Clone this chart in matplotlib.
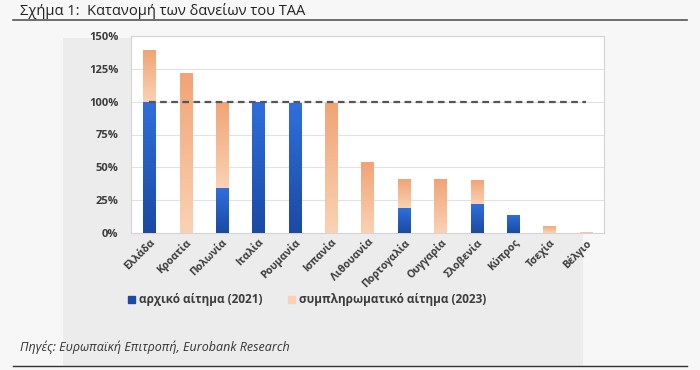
import matplotlib

matplotlib.use("Agg")
import matplotlib.pyplot as plt
import numpy as np
from matplotlib.patches import Rectangle
from matplotlib.lines import Line2D
from matplotlib.colors import LinearSegmentedColormap

plt.rcParams["font.family"] = ["Open Sans", "DejaVu Sans"]

countries = ["Ελλάδα", "Κροατία", "Πολωνία", "Ιταλία", "Ρουμανία", "Ισπανία", "Λιθουανία",
             "Πορτογαλία", "Ουγγαρία", "Σλοβενία", "Κύπρος", "Τσεχία", "Βέλγιο"]
initial_2021 = [100, 0, 34, 100, 99, 0, 0, 19, 0, 22, 14, 0, 0]
extra_2023 = [39, 122, 66, 0, 0, 99, 54, 22, 41, 18, 0, 5.5, 0.8]
yticks = [0, 25, 50, 75, 100, 125, 150]
ytick_labels = ["0%", "25%", "50%", "75%", "100%", "125%", "150%"]

BLUE_TOP, BLUE_BOTTOM = "#2f6fdc", "#1b4aa3"
ORANGE_TOP, ORANGE_BOTTOM = "#f1a476", "#fad2b3"
TEXT = "#3c3c3c"

fig = plt.figure(figsize=(7, 3.7), dpi=100)
fig.patch.set_facecolor("#f7f7f7")

# grey panel behind the chart
fig.patches.append(Rectangle((63 / 700, 1 - 366 / 370), 520 / 700, 328 / 370,
                             transform=fig.transFigure, facecolor="#ececec",
                             edgecolor="none", zorder=-5))
# rules under the title and above the source
fig.add_artist(Line2D([13 / 700, 687 / 700], [1 - 20 / 370] * 2, color="#555555", lw=1.2))
fig.add_artist(Line2D([13 / 700, 687 / 700], [1 - 366 / 370] * 2, color="#333333", lw=1.0))

ax = fig.add_axes([131 / 700, 1 - 233 / 370, 473 / 700, 197 / 370])
ax.set_facecolor("white")

x = np.arange(len(countries))
width = 0.33
bars_blue = ax.bar(x, initial_2021, width, color=BLUE_TOP, zorder=2,
                   label="αρχικό αίτημα (2021)")
bars_orange = ax.bar(x, extra_2023, width, bottom=initial_2021, color=ORANGE_TOP, zorder=2,
                     label="συμπληρωματικό αίτημα (2023)")


def gradient_fill(bars, top, bottom):
    cmap = LinearSegmentedColormap.from_list("g", [bottom, top])
    grad = np.linspace(0, 1, 64).reshape(-1, 1)
    for bar in bars:
        if bar.get_height() <= 0:
            continue
        x0, y0 = bar.get_x(), bar.get_y()
        im = ax.imshow(grad, cmap=cmap, aspect="auto", origin="lower",
                       extent=[x0, x0 + bar.get_width(), y0, y0 + bar.get_height()],
                       zorder=3)
        im.set_clip_path(bar)


gradient_fill(bars_blue, BLUE_TOP, BLUE_BOTTOM)
gradient_fill(bars_orange, ORANGE_TOP, ORANGE_BOTTOM)

ax.plot([x[0], x[-1]], [100, 100], color="#555555", lw=1.6, ls=(0, (3, 2)), zorder=4)

ax.set_xlim(-0.5, len(countries) - 0.5)
ax.set_ylim(0, 150)
ax.set_yticks(yticks)
ax.set_yticklabels(ytick_labels)
ax.yaxis.grid(True, color="#e2e2e2", lw=0.8, zorder=0)
ax.set_axisbelow(True)
ax.tick_params(axis="y", length=0, pad=9, labelsize=8, labelcolor=TEXT)
ax.tick_params(axis="x", length=0, pad=3, labelsize=7.5, labelcolor=TEXT)
for lab in ax.get_yticklabels():
    lab.set_fontweight("bold")
ax.set_xticks(x)
ax.set_xticklabels(countries, rotation=45, ha="right", rotation_mode="anchor",
                   fontweight="bold")
for side in ax.spines.values():
    side.set_color("#d4d4d4")
    side.set_linewidth(0.8)

handles = [Rectangle((0, 0), 1, 1, color=BLUE_BOTTOM), Rectangle((0, 0), 1, 1, color=ORANGE_BOTTOM)]
fig.legend(handles, ["αρχικό αίτημα (2021)", "συμπληρωματικό αίτημα (2023)"],
           loc="center", bbox_to_anchor=(307 / 700, 1 - 300 / 370), ncol=2, frameon=False,
           handlelength=0.6, handleheight=0.6, handletextpad=0.3, columnspacing=2.2,
           prop={"size": 8.5, "weight": "bold"}, labelcolor=TEXT)

fig.text(20 / 700, 1 - 11 / 370, "Σχήμα 1:  Κατανομή των δανείων του ΤΑΑ", fontsize=10.5,
         color="#222222", va="center", ha="left")
fig.text(20 / 700, 1 - 347 / 370, "Πηγές: Ευρωπαϊκή Επιτροπή, Eurobank Research", fontsize=9,
         style="italic", color="#333333", va="center", ha="left")

fig.savefig("out.png", dpi=100, facecolor=fig.get_facecolor())
